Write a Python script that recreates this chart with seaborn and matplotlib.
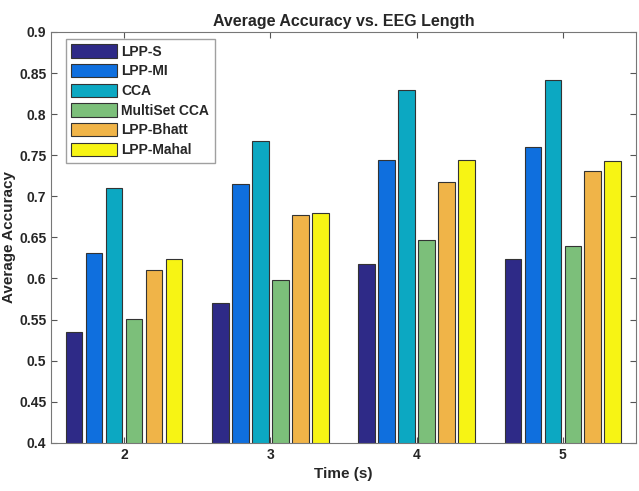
import matplotlib
matplotlib.use("Agg")
import matplotlib.pyplot as plt
import seaborn as sns
import pandas as pd

times = ["2", "3", "4", "5"]
methods = ["LPP-S", "LPP-MI", "CCA", "MultiSet CCA", "LPP-Bhatt", "LPP-Mahal"]
lpp_s = [0.535, 0.570, 0.618, 0.624]
lpp_mi = [0.631, 0.715, 0.744, 0.760]
cca = [0.710, 0.767, 0.829, 0.842]
multiset_cca = [0.551, 0.598, 0.647, 0.640]
lpp_bhatt = [0.610, 0.677, 0.717, 0.731]
lpp_mahal = [0.624, 0.680, 0.744, 0.743]
yticks = [0.4, 0.45, 0.5, 0.55, 0.6, 0.65, 0.7, 0.75, 0.8, 0.85, 0.9]
ytick_labels = ["0.4", "0.45", "0.5", "0.55", "0.6", "0.65", "0.7", "0.75", "0.8", "0.85", "0.9"]
colors = ["#2e2a87", "#0f6fde", "#0ca8c2", "#7cbf7a", "#f0b448", "#f7f414"]

series = [lpp_s, lpp_mi, cca, multiset_cca, lpp_bhatt, lpp_mahal]
rows = []
for m, vals in zip(methods, series):
    for t, v in zip(times, vals):
        rows.append({"Time": t, "Method": m, "Accuracy": v})
df = pd.DataFrame(rows)

sns.set_style("white")
plt.rcParams["font.family"] = ["Liberation Sans", "DejaVu Sans"]
plt.rcParams["font.weight"] = "bold"

fig = plt.figure(figsize=(6.39, 4.91), dpi=100)
ax = fig.add_axes([0.080, 0.098, 0.915, 0.837])

sns.barplot(data=df, x="Time", y="Accuracy", hue="Method", order=times,
            hue_order=methods, palette=colors, width=0.82, gap=0.18,
            edgecolor="#333333", linewidth=0.8, saturation=1, ax=ax)

ax.set_xlim(-0.5, 3.5)
ax.set_ylim(0.4, 0.9)
ax.set_yticks(yticks)
ax.set_yticklabels(ytick_labels, fontsize=10, fontweight="bold", color="#262626")
for lbl in ax.get_xticklabels():
    lbl.set_fontsize(10)
    lbl.set_fontweight("bold")
    lbl.set_color("#262626")
ax.tick_params(direction="in", length=4, color="#555555", top=True, right=True,
               bottom=True, left=True, width=0.8)
for s in ax.spines.values():
    s.set_color("#777777")
    s.set_linewidth(0.8)
ax.set_title("Average Accuracy vs. EEG Length", fontsize=11.5, fontweight="bold", pad=4)
ax.set_xlabel("Time (s)", fontsize=11, fontweight="bold", labelpad=4)
ax.set_ylabel("Average Accuracy", fontsize=11, fontweight="bold", labelpad=2)

leg = ax.legend(loc="upper left", bbox_to_anchor=(0.02, 0.99), fontsize=10,
                frameon=True, fancybox=False, edgecolor="#888888",
                handlelength=3.3, handleheight=1.1, labelspacing=0.38,
                handletextpad=0.3, borderpad=0.4, borderaxespad=0.2)
for t in leg.get_texts():
    t.set_fontweight("bold")
leg.get_frame().set_linewidth(1.0)

fig.savefig("out.png", dpi=100)
